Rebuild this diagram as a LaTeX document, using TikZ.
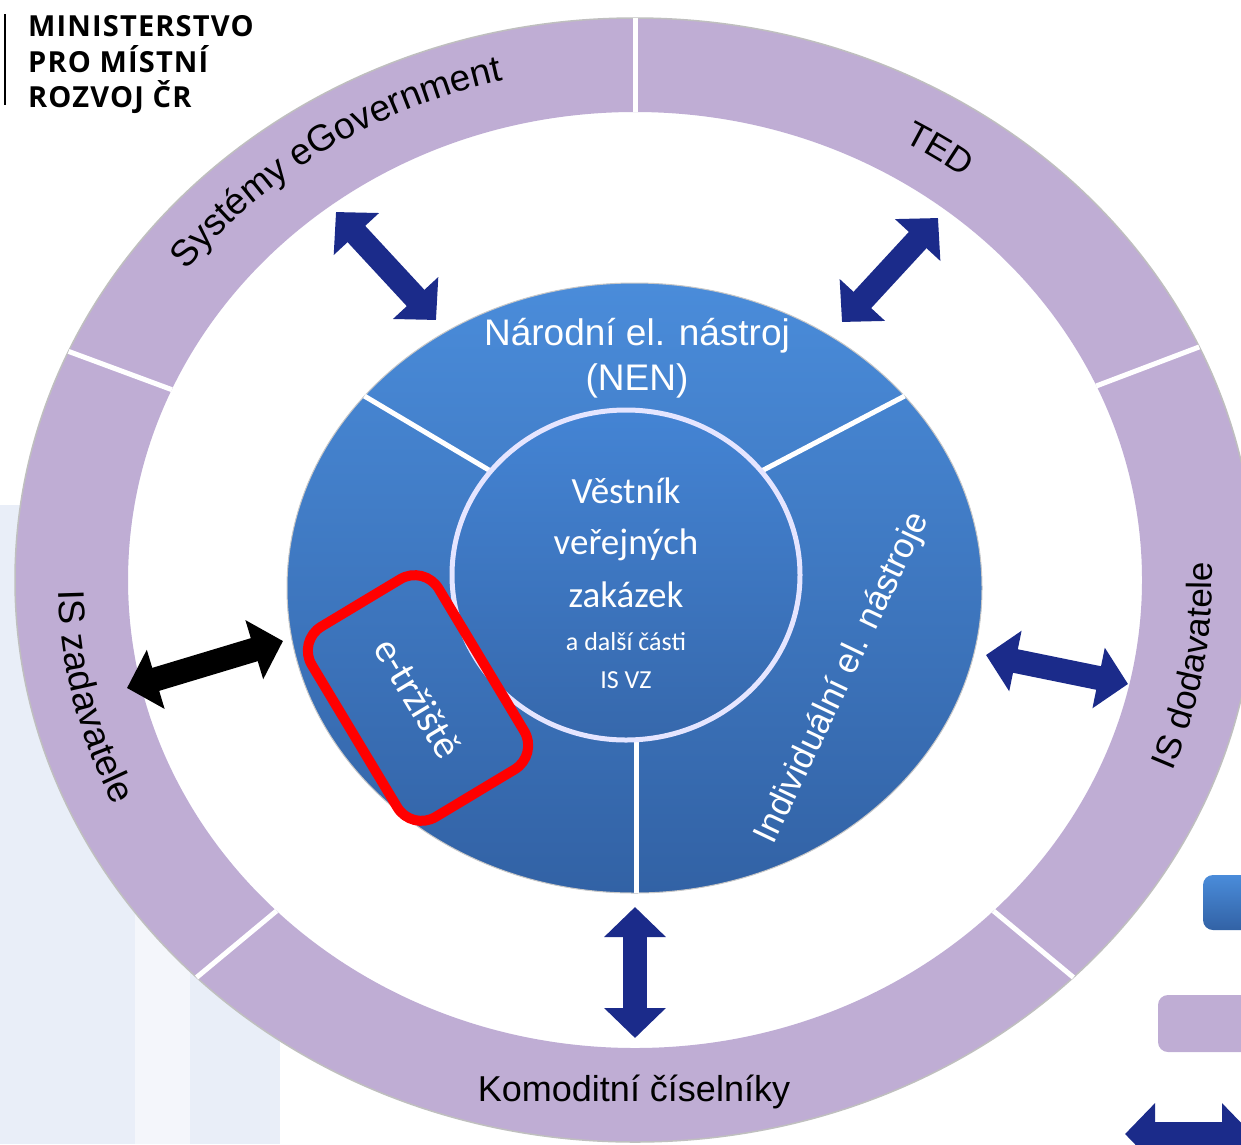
\documentclass[tikz,border=0pt]{standalone}
\usepackage{fontspec}
\setmainfont{Liberation Sans}
\newfontfamily\califont{Carlito}
\newfontfamily\logofont{Open Sans}[LetterSpace=4]
\usepackage{tikz}
\usetikzlibrary{arrows.meta,calc,decorations.text}
\definecolor{ringlilac}{RGB}{191,173,212}
\definecolor{disktop}{RGB}{74,140,218}
\definecolor{diskbot}{RGB}{50,98,165}
\definecolor{coretop}{RGB}{68,132,212}
\definecolor{corebot}{RGB}{54,104,172}
\definecolor{navyarrow}{RGB}{27,43,138}
\definecolor{panelblue}{RGB}{233,238,248}
\definecolor{panelpale}{RGB}{244,246,251}
\newcommand{\ringfont}{\fontsize{35}{35}\selectfont}
\newcommand{\egovfont}{\fontsize{37}{37}\selectfont}
\tikzstyle{divider}=[draw=white, line width=5pt]
\tikzstyle{ringlabel}=[decorate, decoration={text along path, text align=center}]
\tikzstyle{disklabel}=[text=white, font=\fontsize{37}{37}\selectfont, anchor=base, inner sep=0pt]
\tikzstyle{corelabel}=[text=white, font=\califont\fontsize{37}{37}\selectfont, anchor=base, inner sep=0pt]
\tikzstyle{coresmall}=[text=white, font=\califont\fontsize{26}{26}\selectfont, anchor=base, inner sep=0pt]
\tikzstyle{logoline}=[font=\logofont\bfseries\fontsize{29}{29}\selectfont, anchor=base west, inner sep=0pt]
\tikzstyle{dblarrow}=[draw=navyarrow, line width=24pt, {Triangle[width=60pt,length=30pt]}-{Triangle[width=60pt,length=30pt]}]
\tikzstyle{blkarrow}=[dblarrow, draw=black]

\begin{document}
\begin{tikzpicture}[x=1pt, y=-1pt]
		   \useasboundingbox (0,0) rectangle (1241,1144);
		   \clip (0,0) rectangle (1241,1144);
		   \begin{scope}
			   \fill[panelblue] (0,505) rectangle (135,1144);
			   \fill[panelpale] (135,780) rectangle (190,1144);
			   \fill[panelblue] (190,830) rectangle (280,1144);

			   \coordinate (ringc) at (635,580);
			   \coordinate (diskc) at (634.5,588);
			   \coordinate (corec) at (626,575);

			   \fill[white] (ringc) ellipse[x radius=507, y radius=468];
			   \fill[ringlilac, even odd rule] (ringc) ellipse[x radius=620, y radius=562] (ringc) ellipse[x radius=507, y radius=468];
			   \draw[black!25, line width=1.5pt] (ringc) ellipse[x radius=620, y radius=562];

			   \draw[divider] ($(ringc)+(-90:507 and 468)$) -- ($(ringc)+(-90:620 and 562)$);
			   \draw[divider] ($(ringc)+(-156:507 and 468)$) -- ($(ringc)+(-156:620 and 562)$);
			   \draw[divider] ($(ringc)+(-225:507 and 468)$) -- ($(ringc)+(-225:620 and 562)$);
			   \draw[divider] ($(ringc)+(-315:507 and 468)$) -- ($(ringc)+(-315:620 and 562)$);
			   \draw[divider] ($(ringc)+(-24.5:507 and 468)$) -- ($(ringc)+(-24.5:620 and 562)$);

			   \path[ringlabel, decoration={text={|\egovfont|Systémy eGovernment}}] ($(ringc)+(-165:562 and 514)$) arc[start angle=-165, end angle=-83, x radius=562, y radius=514];
			   \path[ringlabel, decoration={text={|\ringfont|TED}}] ($(ringc)+(-85:550 and 503)$) arc[start angle=-85, end angle=-28, x radius=550, y radius=503];
			   \path[ringlabel, decoration={text={|\egovfont|IS zadavatele}}] ($(ringc)+(-163:577 and 525)$) arc[start angle=-163, end angle=-223, x radius=577, y radius=525];
			   \path[ringlabel, decoration={text={|\ringfont|IS dodavatele}}] ($(ringc)+(40:577 and 525)$) arc[start angle=40, end angle=-21, x radius=577, y radius=525];
			   \node[font=\fontsize{36}{36}\selectfont, anchor=base, inner sep=0pt] (komod) at (634,1101) {Komoditní číselníky};

			   \shade[top color=disktop, bottom color=diskbot] (diskc) ellipse[x radius=347.5, y radius=305];
			   \draw[black!22, line width=1pt] (diskc) ellipse[x radius=347.5, y radius=305];
			   \draw[divider] ($(corec)+(-141:174 and 165)$) -- ($(diskc)+(-141:347.5 and 305)$);
			   \draw[divider] ($(corec)+(-39:174 and 165)$) -- ($(diskc)+(-39:347.5 and 305)$);
			   \draw[divider] (636,740) -- (636,893);
			   \shade[top color=coretop, bottom color=corebot] (corec) ellipse[x radius=174, y radius=165];
			   \draw[white!90!blue, line width=5pt] (corec) ellipse[x radius=174, y radius=165];

			   \node[disklabel] (nen1) at (637,345) {Národní el. nástroj};
			   \node[disklabel] (nen2) at (637,390) {(NEN)};
			   \node[corelabel] (vest1) at (626,503) {Věstník};
			   \node[corelabel] (vest2) at (626,554) {veřejných};
			   \node[corelabel] (vest3) at (626,607) {zakázek};
			   \node[coresmall] (vest4) at (626,650) {a další části};
			   \node[coresmall] (vest5) at (626,688) {IS VZ};
			   \node[text=white, font=\fontsize{35}{35}\selectfont, rotate=64.5] (indiv) at (843,678) {Individuální el. nástroje};
			   \node[draw=red, line width=10pt, rounded corners=28pt, minimum width=222pt, minimum height=148pt, rotate=-59, text=white, font=\califont\fontsize{40}{40}\selectfont] (etrh) at (418,698) {e-tržiště};

			   \draw[line width=2pt] (5,14) -- (5,105);
			   \node[logoline] (logo1) at (28,36) {MINISTERSTVO};
			   \node[logoline] (logo2) at (28,72) {PRO MÍSTNÍ};
			   \node[logoline] (logo3) at (28,107) {ROZVOJ ČR};

			   \shade[top color=disktop, bottom color=diskbot, rounded corners=10pt] (1203,875) rectangle (1270,930);
			   \fill[ringlilac, rounded corners=10pt] (1158,995) rectangle (1270,1052);

			   \coordinate (egovA) at (336,212);
			   \coordinate (egovB) at (436,320);
			   \coordinate (tedA) at (938,218);
			   \coordinate (tedB) at (842,322);
			   \coordinate (zadA) at (127,688);
			   \coordinate (zadB) at (283,641);
			   \coordinate (dodA) at (986,655);
			   \coordinate (dodB) at (1128,684);
			   \coordinate (komA) at (635,907);
			   \coordinate (komB) at (635,1038);
			   \coordinate (legA) at (1125,1134);
			   \coordinate (legB) at (1252,1134);
		   \end{scope}
		   \begin{scope}
			   \draw[dblarrow] (egovA) -- (egovB);
			   \draw[dblarrow] (tedA) -- (tedB);
			   \draw[blkarrow] (zadA) -- (zadB);
			   \draw[dblarrow] (dodA) -- (dodB);
			   \draw[dblarrow] (komA) -- (komB);
			   \draw[dblarrow] (legA) -- (legB);
		   \end{scope}
\end{tikzpicture}
\end{document}
